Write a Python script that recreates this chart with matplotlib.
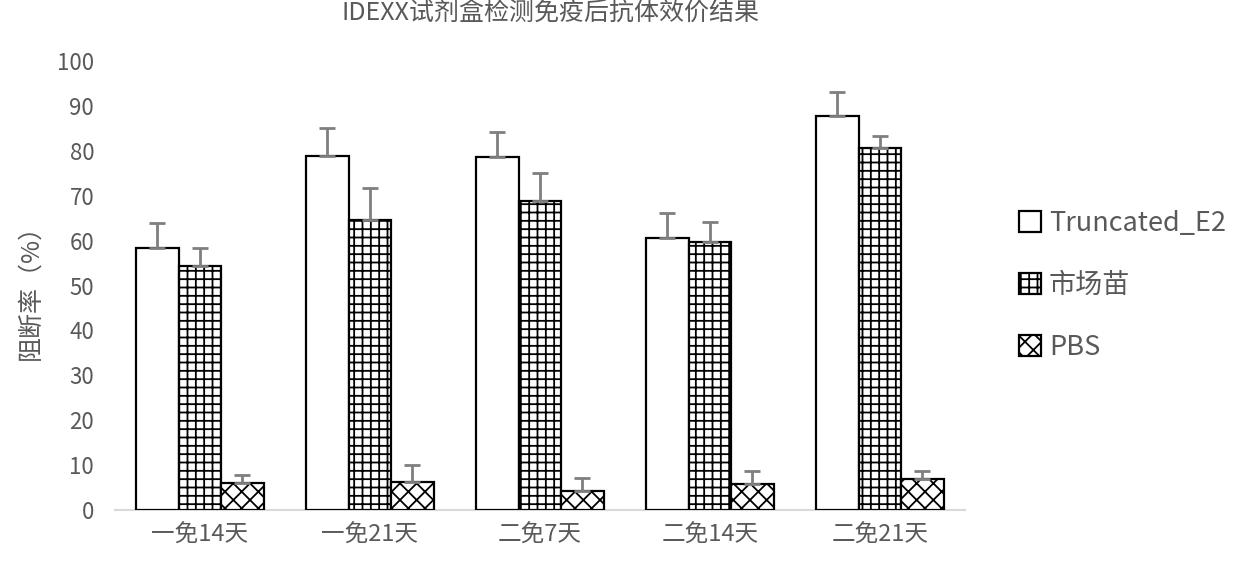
import numpy as np
import matplotlib
matplotlib.use('Agg')
import matplotlib.pyplot as plt
from matplotlib.patches import Patch

plt.rcParams['font.family'] = ['Noto Sans CJK SC', 'DejaVu Sans']
plt.rcParams['hatch.linewidth'] = 1.3

# data
groups = ['一免14天', '一免21天', '二免7天', '二免14天', '二免21天']
series = ['Truncated_E2', '市场苗', 'PBS']
truncated = [58.4, 78.8, 78.7, 60.5, 87.8]
truncated_err = [5.5, 6.3, 5.6, 5.7, 5.4]
market = [54.4, 64.6, 68.8, 59.8, 80.7]
market_err = [4.0, 7.1, 6.2, 4.4, 2.7]
pbs = [6.1, 6.3, 4.3, 5.9, 6.9]
pbs_err = [1.6, 3.7, 2.8, 2.9, 1.9]

vals = [truncated, market, pbs]
errs = [truncated_err, market_err, pbs_err]
hatches = ['', '++', 'xx']

fig = plt.figure(figsize=(12.39, 5.71), dpi=100)
ax = fig.add_axes([0.0928, 0.1068, 0.686, 0.786])

x = np.arange(len(groups))
w = 0.25
grey = '#595959'
for i in range(3):
    ax.bar(x + (i - 1) * w, vals[i], w, color='white', edgecolor='black',
           linewidth=1.6, hatch=hatches[i], zorder=2)
    # only the upper half of the error bar, like excel "plus"
    ax.errorbar(x + (i - 1) * w, vals[i], yerr=[np.zeros(5), errs[i]],
                fmt='none', ecolor='#7f7f7f', elinewidth=2, capsize=6,
                capthick=2, zorder=3)

ax.set_xlim(-0.5, 4.5)
ax.set_ylim(0, 100)
ax.set_yticks(range(0, 101, 10))
ax.set_xticks(x)
ax.set_xticklabels(groups)
ax.tick_params(axis='both', length=0, colors=grey, labelsize=16)
ax.tick_params(axis='x', pad=10, labelsize=17)
ax.tick_params(axis='y', pad=15)
for s in ['top', 'right', 'left']:
    ax.spines[s].set_visible(False)
ax.spines['bottom'].set_color('#d9d9d9')
ax.spines['bottom'].set_linewidth(1.5)
ax.spines['bottom'].set_zorder(1)

ax.set_ylabel('阻断率（%）', color=grey, fontsize=18, labelpad=10)

fig.text(0.444, 0.978, 'IDEXX试剂盒检测免疫后抗体效价结果', ha='center',
         va='center', fontsize=18, color=grey)

handles = [Patch(facecolor='white', edgecolor='black', linewidth=1.6, hatch=h)
           for h in hatches]
fig.legend(handles, series, loc='center left', bbox_to_anchor=(0.803, 0.5),
           frameon=False, fontsize=19.5, handlelength=0.8, handleheight=0.8,
           handletextpad=0.3, labelspacing=1.3, labelcolor=grey)

fig.savefig('out.png', dpi=100)
